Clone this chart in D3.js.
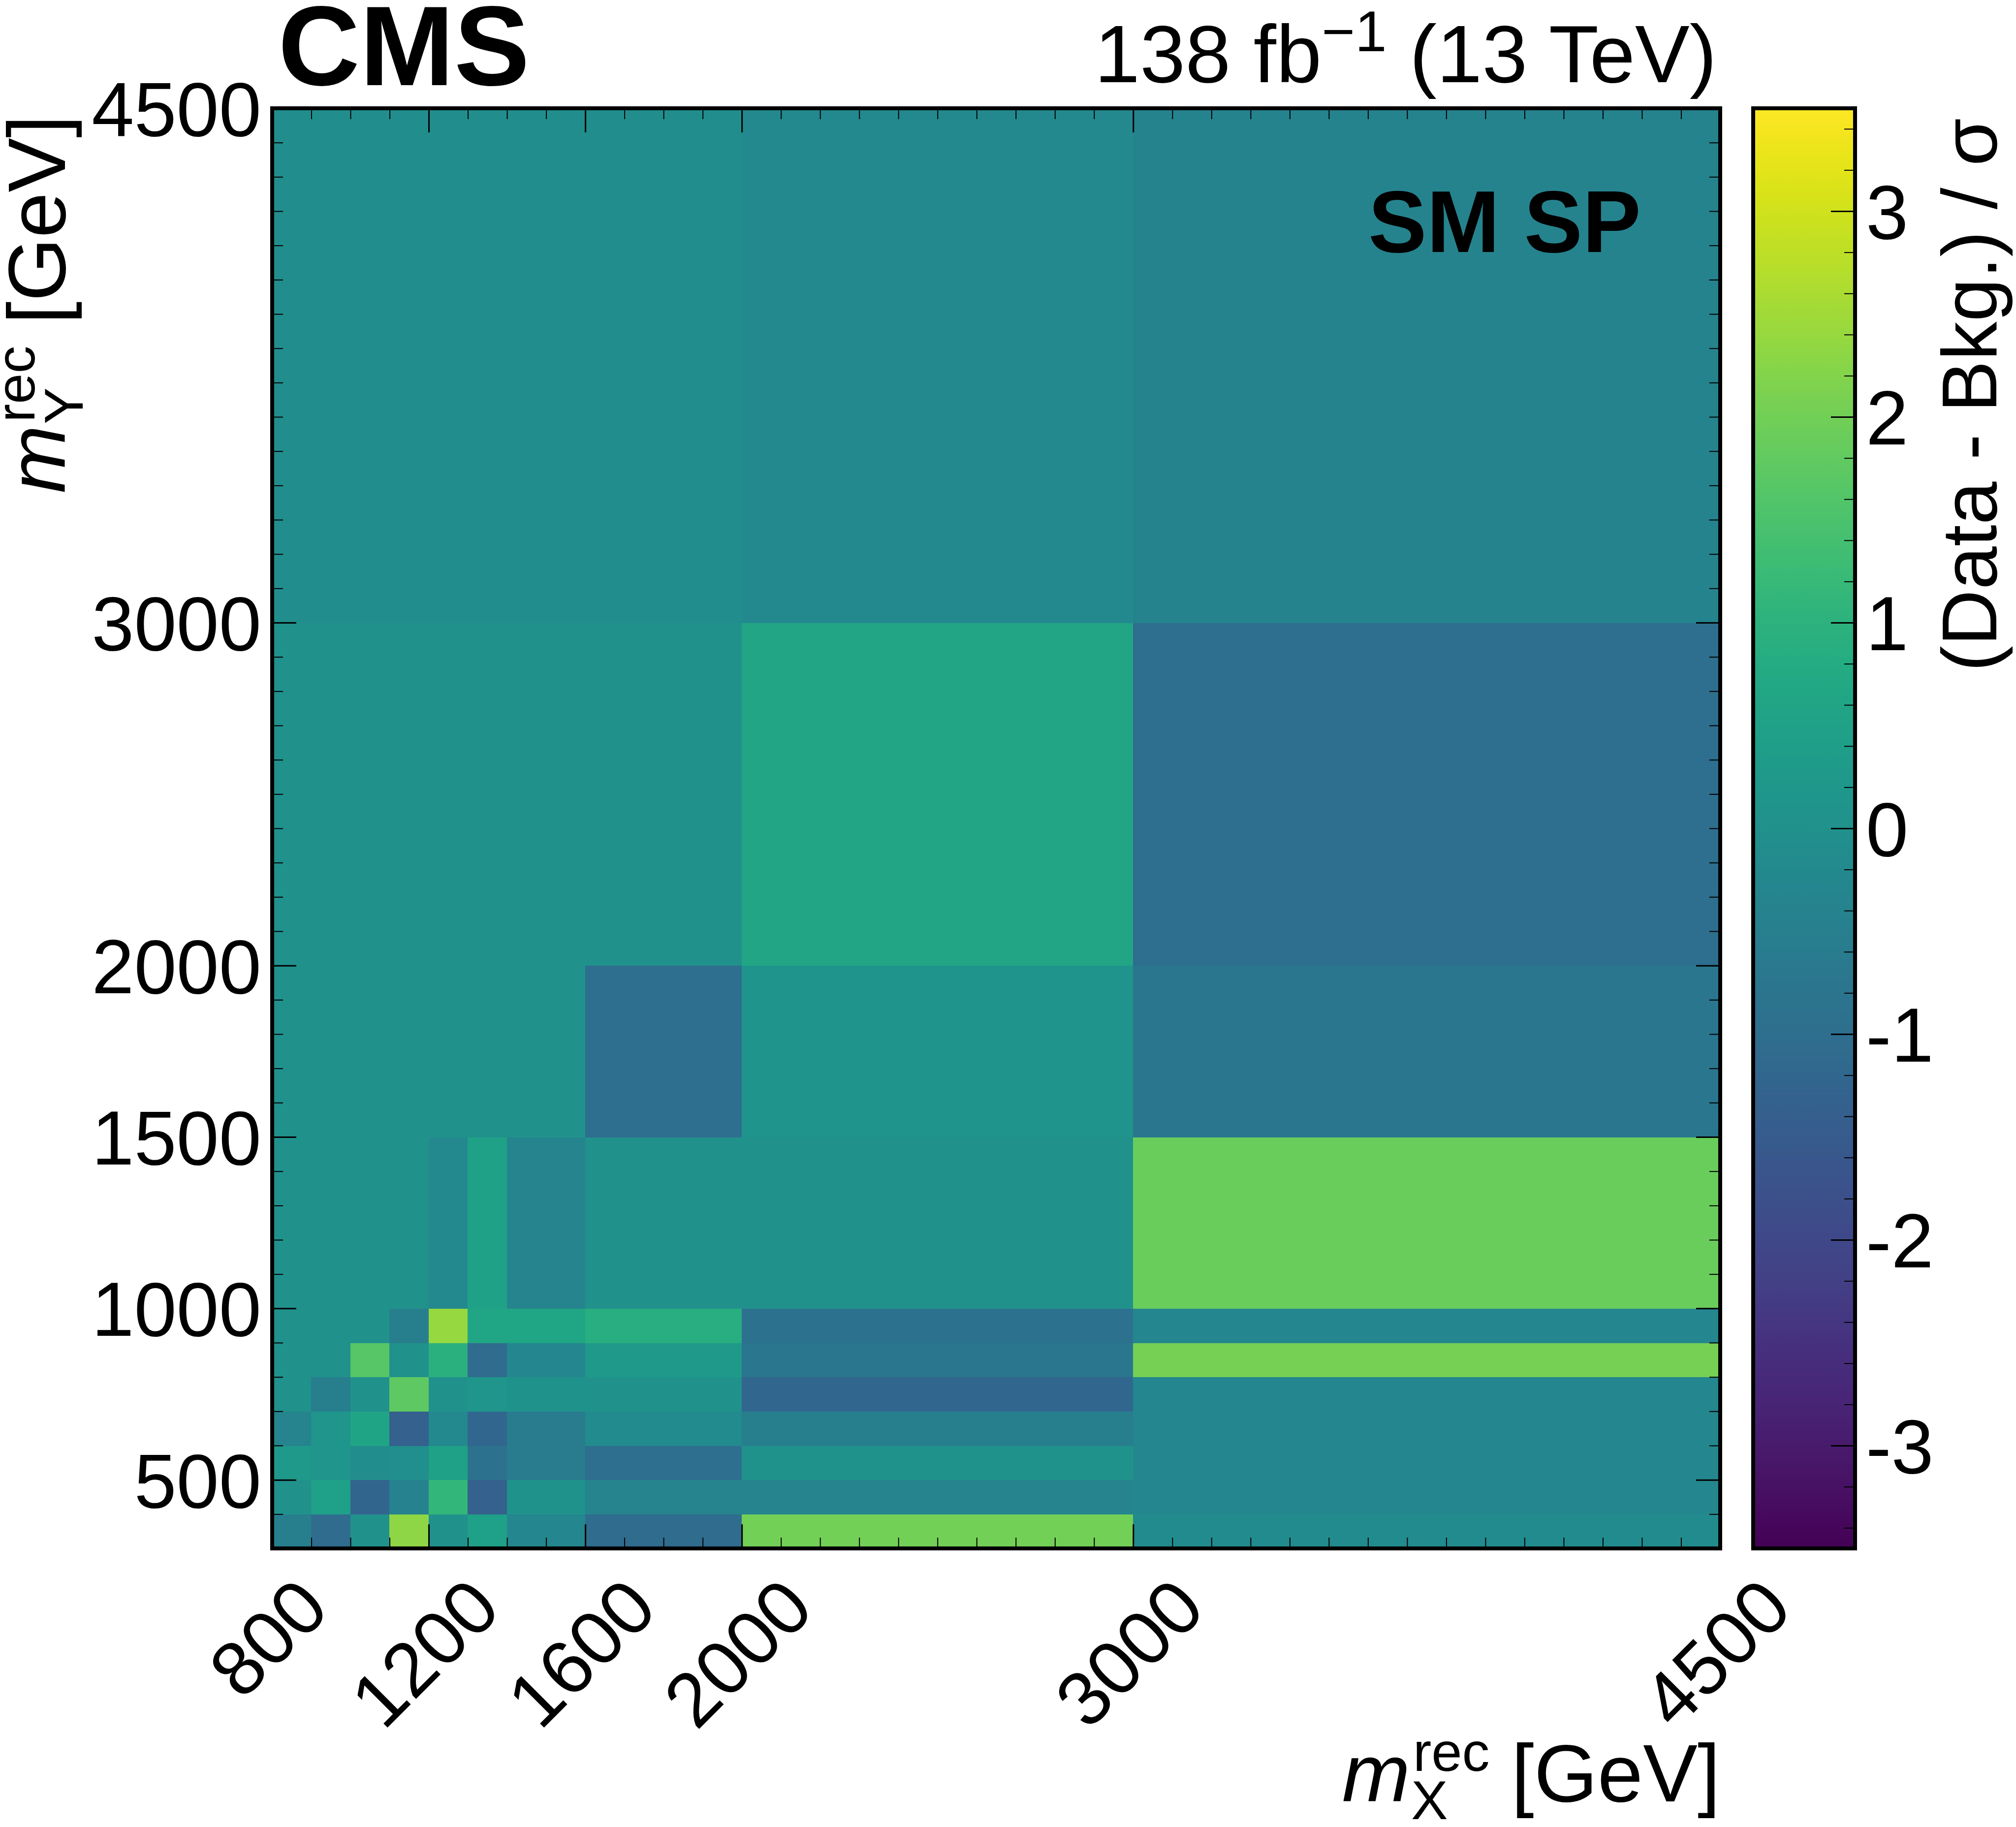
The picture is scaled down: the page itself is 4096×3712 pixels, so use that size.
<!DOCTYPE html>
<html><head><meta charset="utf-8">
<script src="https://cdn.jsdelivr.net/npm/d3@7"></script>
<style>
body{margin:0;background:#fff;}
text{font-family:"Liberation Sans", Arial, Helvetica, sans-serif;}
</style>
</head><body>
<svg id="chart" width="4096" height="3712"></svg>
<script>
// ---------------- data ----------------
const xEdges = [800, 900, 1000, 1100, 1200, 1300, 1400, 1600, 2000, 3000, 4500];
const yEdges = [300, 400, 500, 600, 700, 800, 900, 1000, 1500, 2000, 3000, 4500];
// rows from bottom (300-400) to top (3000-4500), columns follow xEdges
const row300  = [-0.5, -1.05, 0.0, 2.3, 0.0, 0.45, -0.3, -1.05, 2.0, -0.15];
const row400  = [0.0, 0.45, -1.25, -0.4, 1.1, -1.35, 0.05, -0.35, -0.35, -0.3];
const row500  = [0.3, 0.15, -0.1, -0.05, 0.5, -0.85, -0.6, -1.0, 0.05, -0.3];
const row600  = [-0.35, 0.15, 0.6, -1.35, -0.2, -1.2, -0.6, -0.15, -0.5, -0.3];
const row700  = [0.0, -0.5, 0.0, 1.75, 0.0, 0.15, 0.05, 0.0, -1.2, -0.3];
const row800  = [0.0, 0.0, 1.65, 0.0, 0.95, -1.05, -0.3, 0.25, -0.75, 2.05];
const row900  = [0.0, 0.0, 0.0, -0.5, 2.4, 0.65, 0.65, 0.9, -0.9, -0.3];
const row1000 = [0.0, 0.0, 0.0, 0.0, -0.2, 0.5, -0.35, 0.0, 0.0, 1.9];
const row1500 = [0.0, 0.0, 0.0, 0.0, 0.0, 0.0, 0.0, -1.0, 0.12, -0.75];
const row2000 = [0.0, 0.0, 0.0, 0.0, 0.0, 0.0, 0.0, 0.0, 0.62, -1.0];
const row3000 = [-0.06, -0.06, -0.06, -0.06, -0.06, -0.06, -0.06, -0.06, -0.2, -0.38];
const rows = [row300, row400, row500, row600, row700, row800, row900, row1000, row1500, row2000, row3000];

const xMajorTicks = [800, 1200, 1600, 2000, 3000, 4500];
const yMajorTicks = [500, 1000, 1500, 2000, 3000, 4500];
const colorTicks = [-3, -2, -1, 0, 1, 2, 3];
const zRange = [-3.5, 3.5];
const xDomain = [800, 4500];
const yDomain = [300, 4500];

// ---------------- layout ----------------
const W = 4096, H = 3712;
const P = {left: 553, right: 3495, top: 220, bottom: 3146};
const CB = {left: 3562, right: 3769};
const MAJ = 49, MIN = 22;
const TICK_FS = 155, LABEL_FS = 166, SUP_FS = 112;

const svg = d3.select("#chart");
svg.append("rect").attr("width", W).attr("height", H).attr("fill", "#fff");

const x = d3.scaleLinear().domain(xDomain).range([P.left, P.right]);
const y = d3.scaleLinear().domain(yDomain).range([P.bottom, P.top]);
const color = d3.scaleSequential(d3.interpolateViridis).domain(zRange);

// ---------------- cells ----------------
const cells = [];
rows.forEach((r, i) => r.forEach((v, j) => cells.push({
  x0: xEdges[j], x1: xEdges[j + 1], y0: yEdges[i], y1: yEdges[i + 1], v
})));
svg.append("g").selectAll("rect").data(cells).join("rect")
  .attr("x", d => x(d.x0))
  .attr("y", d => y(d.y1))
  .attr("width", d => x(d.x1) - x(d.x0))
  .attr("height", d => y(d.y0) - y(d.y1))
  .attr("fill", d => color(d.v))
  .attr("stroke", d => color(d.v))
  .attr("stroke-width", 1)
  .attr("shape-rendering", "crispEdges");

// ---------------- axes / ticks ----------------
const xMinor = d3.range(xDomain[0], xDomain[1] + 1, 100);
const yMinor = d3.range(yDomain[0], yDomain[1] + 1, 100);

function styleAxis(g, width) {
  g.select(".domain").remove();
  g.selectAll(".tick line").attr("stroke", "#000").attr("stroke-width", width);
  g.attr("font-family", null).attr("font-size", null);
}
function addTicks(axisFn, scale, vals, size, width, transform) {
  const g = svg.append("g").attr("transform", transform)
    .call(axisFn(scale).tickValues(vals).tickSize(-size).tickFormat(""));
  styleAxis(g, width);
  return g;
}
// minor ticks on all four sides
addTicks(d3.axisBottom, x, xMinor, MIN, 2, `translate(0,${P.bottom})`);
addTicks(d3.axisTop, x, xMinor, MIN, 2, `translate(0,${P.top})`);
addTicks(d3.axisLeft, y, yMinor, MIN, 2, `translate(${P.left},0)`);
addTicks(d3.axisRight, y, yMinor, MIN, 2, `translate(${P.right},0)`);
// major ticks top/right
addTicks(d3.axisTop, x, xMajorTicks, MAJ, 3, `translate(0,${P.top})`);
addTicks(d3.axisRight, y, yMajorTicks, MAJ, 3, `translate(${P.right},0)`);

// bottom axis with labels
const gx = svg.append("g").attr("transform", `translate(0,${P.bottom})`)
  .call(d3.axisBottom(x).tickValues(xMajorTicks).tickSize(-MAJ).tickPadding(0).tickFormat(d3.format("d")));
styleAxis(gx, 3);
const labelTop = 3196 - P.bottom;
gx.selectAll(".tick text")
  .attr("font-size", TICK_FS).attr("fill", "#000")
  .attr("text-anchor", "middle").attr("x", 0).attr("y", 0).attr("dy", "0.358em")
  .each(function () {
    const w = this.getComputedTextLength();
    const h = 0.716 * TICK_FS;
    const cy = labelTop + (w + h) / (2 * Math.SQRT2);
    d3.select(this).attr("transform", `translate(-10,${cy}) rotate(-45)`);
  });

// left axis with labels
const gy = svg.append("g").attr("transform", `translate(${P.left},0)`)
  .call(d3.axisLeft(y).tickValues(yMajorTicks).tickSize(-MAJ).tickPadding(22).tickFormat(d3.format("d")));
styleAxis(gy, 3);
gy.selectAll(".tick text").attr("font-size", TICK_FS).attr("fill", "#000").attr("dy", "0.358em");

// plot frame
svg.append("rect").attr("x", P.left).attr("y", P.top)
  .attr("width", P.right - P.left).attr("height", P.bottom - P.top)
  .attr("fill", "none").attr("stroke", "#000").attr("stroke-width", 8);

// ---------------- colour bar ----------------
const cScale = d3.scaleLinear().domain(zRange).range([P.bottom, P.top]);
const defs = svg.append("defs");
const grad = defs.append("linearGradient").attr("id", "viridis")
  .attr("x1", 0).attr("y1", 1).attr("x2", 0).attr("y2", 0);
grad.selectAll("stop").data(d3.range(0, 1.0001, 0.02)).join("stop")
  .attr("offset", d => d)
  .attr("stop-color", d => color(zRange[0] + d * (zRange[1] - zRange[0])));
svg.append("rect").attr("x", CB.left).attr("y", P.top)
  .attr("width", CB.right - CB.left).attr("height", P.bottom - P.top)
  .attr("fill", "url(#viridis)");
const cMinor = d3.range(-17, 18).map(k => k * 0.2);
addTicks(d3.axisRight, cScale, cMinor, MIN, 2, `translate(${CB.right},0)`);
const gc = svg.append("g").attr("transform", `translate(${CB.right},0)`)
  .call(d3.axisRight(cScale).tickValues(colorTicks).tickSize(-MAJ).tickPadding(22)
    .tickFormat(d => d < 0 ? "-" + Math.abs(d) : String(d)));
styleAxis(gc, 3);
gc.selectAll(".tick text").attr("font-size", TICK_FS).attr("fill", "#000").attr("dy", "0.358em");
svg.append("rect").attr("x", CB.left).attr("y", P.top)
  .attr("width", CB.right - CB.left).attr("height", P.bottom - P.top)
  .attr("fill", "none").attr("stroke", "#000").attr("stroke-width", 8);

// colour bar title
svg.append("text")
  .attr("transform", `translate(4056,240) rotate(-90)`)
  .attr("text-anchor", "end").attr("font-size", 158).attr("fill", "#000")
  .text("(Data - Bkg.) / σ");

// ---------------- axis titles ----------------
function massLabel(parent, sub) {
  const g = parent.append("g");
  const m = g.append("text").attr("font-size", LABEL_FS).attr("font-style", "italic").text("m");
  const mW = m.node().getComputedTextLength();
  const sp = g.append("text").attr("font-size", SUP_FS).attr("x", mW + 6).attr("y", -62).text("rec");
  const sb = g.append("text").attr("font-size", SUP_FS).attr("x", mW + 2).attr("y", 36).text(sub);
  const after = mW + 6 + Math.max(sp.node().getComputedTextLength(), sb.node().getComputedTextLength()) + 44;
  const rest = g.append("text").attr("font-size", LABEL_FS).attr("x", after).text("[GeV]");
  const total = after + rest.node().getComputedTextLength();
  g.attr("transform", `translate(${-total},0)`);
  g.selectAll("text").attr("fill", "#000");
}
const xl = svg.append("g").attr("transform", `translate(${P.right},3660)`);
massLabel(xl, "X");
const yl = svg.append("g").attr("transform", `translate(132,234) rotate(-90)`);
massLabel(yl, "Y");

// ---------------- header texts ----------------
svg.append("text").attr("x", 565).attr("y", 173)
  .attr("font-size", 230).attr("font-weight", "bold").attr("fill", "#000").text("CMS");

const lumi = svg.append("text").attr("x", 3488).attr("y", 167)
  .attr("text-anchor", "end").attr("font-size", 166).attr("fill", "#000");
lumi.append("tspan").text("138 fb");
lumi.append("tspan").attr("font-size", 116).attr("dy", -63).text("−1");
lumi.append("tspan").attr("dy", 63).text(" (13 TeV)");

svg.append("text").attr("x", 3334).attr("y", 512)
  .attr("text-anchor", "end").attr("font-size", 178).attr("font-weight", "bold").attr("fill", "#000")
  .text("SM SP");
</script>
</body></html>
